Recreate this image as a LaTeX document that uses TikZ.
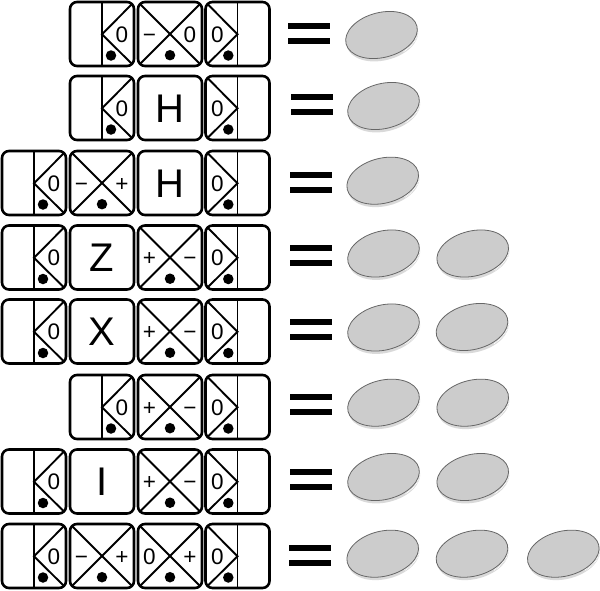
\documentclass[tikz,border=0pt]{standalone}
\usepackage{fontspec}
\setmainfont{Liberation Sans}
\newcommand{\tileL}[3]{% x, y, label
 \draw[tileedge] (#1,#2) rectangle ++(64,64);
 \begin{scope}[shift={(#1,#2)}]
 \draw[innerline] (32,0) -- (32,64);
 \draw[innerline] (62.5,1.5) -- (32,32.3) -- (62.5,62.5);
 \node[dotmark] at (41,53.5) {};
 \node[smalltext] at (52,32.3) {#3};
 \end{scope}}
\newcommand{\tileR}[3]{%
 \draw[tileedge] (#1,#2) rectangle ++(64,64);
 \begin{scope}[shift={(#1,#2)}]
 \draw[innerline] (32,0) -- (32,64);
 \draw[innerline] (1.5,1.5) -- (32,32.3) -- (1.5,62.5);
 \node[dotmark] at (22.8,53.5) {};
 \node[smalltext] at (11.8,32.3) {#3};
 \end{scope}}
\newcommand{\tileX}[4]{%
 \draw[tileedge] (#1,#2) rectangle ++(64,64);
 \begin{scope}[shift={(#1,#2)}]
 \draw[innerline] (1.5,1.5) -- (62.5,62.5);
 \draw[innerline] (62.5,1.5) -- (1.5,62.5);
 \node[dotmark] at (32,53.2) {};
 \node[smalltext] at (11.5,32.3) {#3};
 \node[smalltext] at (52,32.3) {#4};
 \end{scope}}
\newcommand{\tileG}[3]{%
 \draw[tileedge] (#1,#2) rectangle ++(64,64);
 \node[bigtext] at (#1+32,#2+32.3) {#3};}
\newcommand{\coinmark}[2]{%
 \begin{scope}[shift={(#1,#2)},rotate=14]
 \fill[coinshadow] (0.2,3) ellipse (36.5 and 22.5);
 \draw[coinridge] (36.3,4.5) arc[start angle=8,end angle=62,x radius=36.5,y radius=22.5];
 \filldraw[coinface] (0,0) ellipse (36.5 and 22.5);
 \end{scope}}
\newcommand{\eqmark}[2]{%
 \fill[black] (#1,#2) rectangle ++(42,6);
 \fill[black] (#1,#2+15) rectangle ++(42,6);}
\tikzset{x=1pt,y=-1pt,
 tileedge/.style={draw=black,line width=2.6pt,rounded corners=7pt,fill=white},
 innerline/.style={draw=black,line width=1.9pt},
 dotmark/.style={circle,fill=black,inner sep=0pt,minimum size=10.5pt},
 smalltext/.style={font=\fontsize{22.5}{22.5}\selectfont,inner sep=0pt,text height=15.8pt,text depth=0pt},
 bigtext/.style={font=\fontsize{40}{40}\selectfont,inner sep=0pt,text height=27.6pt,text depth=0pt},
 coinface/.style={fill=black!20,draw=black!60,line width=0.8pt},
 coinshadow/.style={fill=black!15},
 coinridge/.style={draw=white,line width=1.6pt,dash pattern=on 0.7pt off 0.9pt}}
\begin{document}
\begin{tikzpicture}
\useasboundingbox (0,0) rectangle (600,590);
% row 1
\tileL{70}{2}{0}\tileX{138}{2}{−}{0}\tileR{205.5}{2}{0}
\eqmark{288}{23}\coinmark{381.5}{35}
% row 2
\tileL{70}{76}{0}\tileG{138}{76}{H}\tileR{205.5}{76}{0}
\eqmark{290.5}{94.3}\coinmark{383.5}{106}
% row 3
\tileL{2}{151}{0}\tileX{70}{151}{−}{+}\tileG{138}{151}{H}\tileR{205.5}{151}{0}
\eqmark{289.5}{172}\coinmark{382.7}{180.7}
% row 4
\tileL{2}{225.5}{0}\tileG{70}{225.5}{Z}\tileX{138}{225.5}{+}{−}\tileR{205.5}{225.5}{0}
\eqmark{290}{245.3}\coinmark{383.5}{253.5}\coinmark{472.7}{253.5}
% row 5
\tileL{2}{299.5}{0}\tileG{70}{299.5}{X}\tileX{138}{299.5}{+}{−}\tileR{205.5}{299.5}{0}
\eqmark{290}{319}\coinmark{383.5}{327.5}\coinmark{472}{327}
% row 6
\tileL{70}{375}{0}\tileX{138}{375}{+}{−}\tileR{205.5}{375}{0}
\eqmark{290}{394.3}\coinmark{383.5}{402.7}\coinmark{472.7}{402.7}
% row 7
\tileL{2}{449.5}{0}\tileG{70}{449.5}{I}\tileX{138}{449.5}{+}{−}\tileR{205.5}{449.5}{0}
\eqmark{290}{469}\coinmark{383.5}{477}\coinmark{472.7}{477}
% row 8
\tileL{2}{524}{0}\tileX{70}{524}{−}{+}\tileX{138}{524}{0}{+}\tileR{205.5}{524}{0}
\eqmark{289.3}{545}\coinmark{382.7}{553.7}\coinmark{472}{553.7}\coinmark{563.3}{553.7}
\end{tikzpicture}
\end{document}
